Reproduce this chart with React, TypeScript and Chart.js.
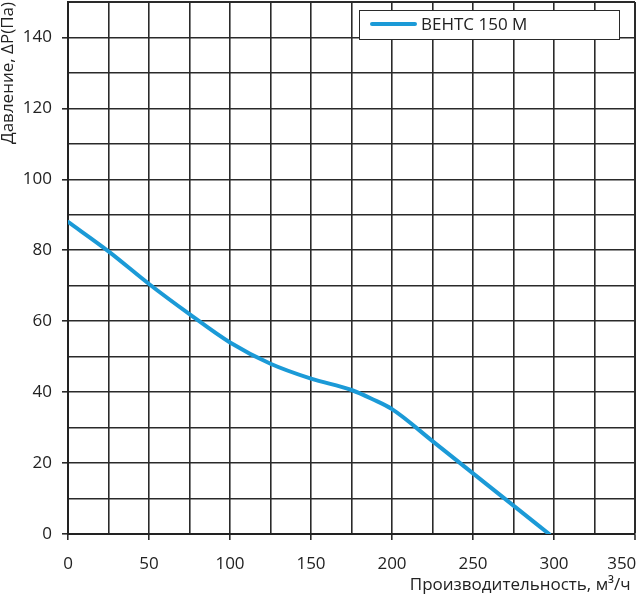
import React, { useEffect, useRef } from "react";
import { Chart, registerables } from "chart.js";

Chart.register(...registerables);

const flowValues = [0, 25, 50, 75, 100, 125, 150, 175, 188, 200, 225, 250, 275, 297];
const pressureValues = [88, 79.7, 70.5, 62, 54, 48, 43.8, 40.6, 38, 35.2, 26.2, 17.1, 8, 0];
const seriesLabel = "ВЕНТС 150 М";
const xTitle = "Производительность, м³/ч ";
const yTitle = "Давление, ΔP(Па)";

const FONT = "'Open Sans', 'DejaVu Sans', sans-serif";
const LINE_COLOR = "#1b9ad7";
const GRID_COLOR = "#2a2a2a";

const legendBox = {
  id: "legendBox",
  afterDraw(chart: any) {
    const ctx = chart.ctx;
    const area = chart.chartArea;
    const right = area.right - 16;
    const left = right - 260;
    const top = area.top + 8;
    const h = 29;
    ctx.save();
    ctx.fillStyle = "#ffffff";
    ctx.fillRect(left, top, right - left, h);
    ctx.strokeStyle = "#2a2a2a";
    ctx.lineWidth = 1;
    ctx.strokeRect(left + 0.5, top + 0.5, right - left, h);
    const ds = chart.data.datasets[0];
    ctx.strokeStyle = ds.borderColor;
    ctx.lineWidth = 4;
    ctx.lineCap = "round";
    ctx.beginPath();
    ctx.moveTo(left + 13, top + 14);
    ctx.lineTo(left + 56, top + 14);
    ctx.stroke();
    ctx.fillStyle = "#222";
    ctx.font = "17px " + FONT;
    ctx.textBaseline = "middle";
    ctx.textAlign = "left";
    ctx.fillText(ds.label, left + 62, top + 15);
    ctx.restore();
  },
};

export default function App() {
  const ref = useRef<HTMLCanvasElement>(null);
  useEffect(() => {
    if (!ref.current) return;
    const data = flowValues.map((x, i) => ({ x, y: pressureValues[i] }));
    const chart = new Chart(ref.current, {
      type: "line",
      data: {
        datasets: [
          {
            label: seriesLabel,
            data,
            borderColor: LINE_COLOR,
            backgroundColor: LINE_COLOR,
            borderWidth: 4,
            pointRadius: 0,
            cubicInterpolationMode: "monotone",
            borderCapStyle: "round",
          },
        ],
      },
      options: {
        responsive: false,
        animation: false,
        layout: { padding: { top: 2, right: 2, left: 0, bottom: 0 } },
        plugins: {
          legend: { display: false },
          tooltip: { enabled: false },
        },
        scales: {
          x: {
            type: "linear",
            min: 0,
            max: 350,
            afterFit: (s: any) => {
              s.height = 62;
              s.paddingLeft = 0;
              s.paddingRight = 0;
            },
            ticks: {
              stepSize: 25,
              autoSkip: false,
              maxRotation: 0,
              padding: 14,
              color: "#222",
              font: { family: FONT, size: 17 },
              callback: (v: any) => {
                const n = Number(v);
                if (n % 50 !== 0) return "";
                return n === 350 ? "350      " : String(n);
              },
            },
            grid: {
              color: GRID_COLOR,
              lineWidth: (c: any) => (c.tick && c.tick.value === 350 ? 2 : 1.6),
              tickLength: 6,
              tickColor: (c: any) =>
                c.tick && c.tick.value % 50 === 0 ? GRID_COLOR : "rgba(0,0,0,0)",
              tickWidth: 1.6,
            },
            border: { color: "#222", width: 2 },
            title: {
              display: true,
              text: xTitle,
              align: "end",
              color: "#222",
              font: { family: FONT, size: 17, lineHeight: 1 },
              padding: { top: 0, bottom: 2 },
            },
          },
          y: {
            type: "linear",
            min: 0,
            max: 150,
            afterFit: (s: any) => {
              s.width = 68;
              s.paddingTop = 0;
              s.paddingBottom = 0;
            },
            ticks: {
              stepSize: 10,
              autoSkip: false,
              padding: 10,
              color: "#222",
              font: { family: FONT, size: 17 },
              callback: (v: any) => (Number(v) % 20 === 0 ? String(v) : ""),
            },
            grid: {
              color: GRID_COLOR,
              lineWidth: (c: any) => (c.tick && c.tick.value === 150 ? 2 : 1.6),
              tickLength: 6,
              tickColor: (c: any) =>
                c.tick && c.tick.value % 20 === 0 ? GRID_COLOR : "rgba(0,0,0,0)",
              tickWidth: 1.6,
            },
            border: { color: "#222", width: 2 },
            title: {
              display: true,
              text: yTitle,
              align: "end",
              color: "#222",
              font: { family: FONT, size: 17, lineHeight: 1 },
              padding: { top: 0, bottom: 0 },
            },
          },
        },
      },
      plugins: [legendBox],
    });
    return () => chart.destroy();
  }, []);
  return (
    <div style={{ position: "absolute", left: 0, top: 0, width: 637, height: 596, background: "#fff" }}>
      <canvas ref={ref} width={637} height={596} style={{ display: "block" }} />
    </div>
  );
}
